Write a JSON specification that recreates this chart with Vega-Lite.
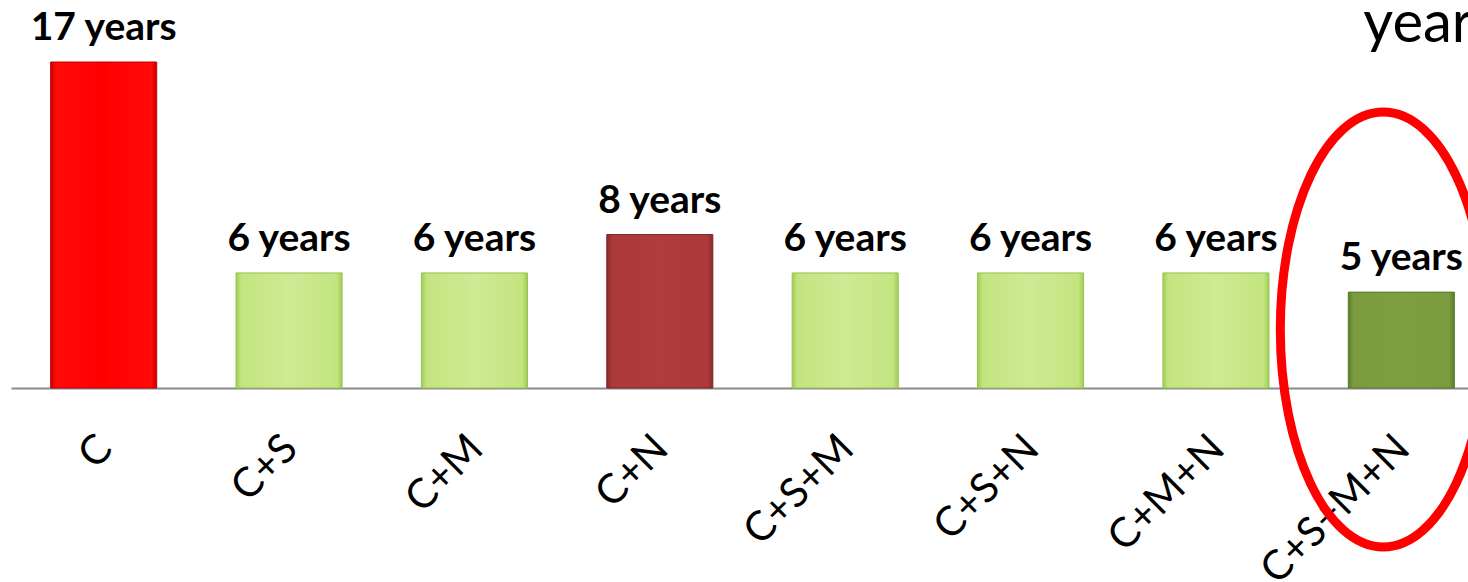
{
  "$schema": "https://vega.github.io/schema/vega-lite/v6.json",
  "width": 1457,
  "height": 326,
  "autosize": "none",
  "padding": {"left": 11, "top": 62, "right": 0, "bottom": 194},
  "background": "white",
  "data": {
    "values": [
      {"combo": "C", "years": 17},
      {"combo": "C+S", "years": 6},
      {"combo": "C+M", "years": 6},
      {"combo": "C+N", "years": 8},
      {"combo": "C+S+M", "years": 6},
      {"combo": "C+S+N", "years": 6},
      {"combo": "C+M+N", "years": 6},
      {"combo": "C+S+M+N", "years": 5}
    ]
  },
  "encoding": {
    "x": {
      "field": "combo",
      "type": "nominal",
      "sort": ["C", "C+S", "C+M", "C+N", "C+S+M", "C+S+N", "C+M+N", "C+S+M+N"],
      "scale": {"range": [0, 1483], "paddingInner": 0.428, "paddingOuter": 0.214},
      "axis": {
        "title": null,
        "ticks": false,
        "domainColor": "#8a8a8a",
        "domainWidth": 2,
        "labelAngle": -45,
        "labelFont": "Lato",
        "labelFontSize": 41,
        "labelColor": "black",
        "labelPadding": 40,
        "labelOffset": -12,
        "labelLimit": 0,
        "labelOverlap": false
      }
    },
    "y": {
      "field": "years",
      "type": "quantitative",
      "scale": {"domain": [0, 17], "nice": false},
      "axis": null
    }
  },
  "layer": [
    {
      "transform": [{"filter": {"field": "combo", "equal": "C"}}],
      "mark": {
        "type": "bar",
        "stroke": "#c00000",
        "strokeWidth": 1,
        "color": {
          "gradient": "linear", "x1": 0, "x2": 1, "y1": 0, "y2": 0,
          "stops": [
            {"offset": 0, "color": "#c80000"},
            {"offset": 0.05, "color": "#ff0a0a"},
            {"offset": 0.5, "color": "#ff0000"},
            {"offset": 0.95, "color": "#ff0a0a"},
            {"offset": 1, "color": "#c80000"}
          ]
        }
      }
    },
    {
      "transform": [{"filter": {"field": "combo", "oneOf": ["C+S", "C+M", "C+S+M", "C+S+N", "C+M+N"]}}],
      "mark": {
        "type": "bar",
        "stroke": "#96c24e",
        "strokeWidth": 1,
        "color": {
          "gradient": "linear", "x1": 0, "x2": 1, "y1": 0, "y2": 0,
          "stops": [
            {"offset": 0, "color": "#9fcf55"},
            {"offset": 0.05, "color": "#c4e480"},
            {"offset": 0.5, "color": "#cfea93"},
            {"offset": 0.95, "color": "#c4e480"},
            {"offset": 1, "color": "#9fcf55"}
          ]
        }
      }
    },
    {
      "transform": [{"filter": {"field": "combo", "equal": "C+N"}}],
      "mark": {
        "type": "bar",
        "stroke": "#7e2424",
        "strokeWidth": 1,
        "color": {
          "gradient": "linear", "x1": 0, "x2": 1, "y1": 0, "y2": 0,
          "stops": [
            {"offset": 0, "color": "#8a2a2a"},
            {"offset": 0.05, "color": "#ac3a3a"},
            {"offset": 0.5, "color": "#b03c3c"},
            {"offset": 0.95, "color": "#ac3a3a"},
            {"offset": 1, "color": "#8a2a2a"}
          ]
        }
      }
    },
    {
      "transform": [{"filter": {"field": "combo", "equal": "C+S+M+N"}}],
      "mark": {
        "type": "bar",
        "stroke": "#5a7a2a",
        "strokeWidth": 1,
        "color": {
          "gradient": "linear", "x1": 0, "x2": 1, "y1": 0, "y2": 0,
          "stops": [
            {"offset": 0, "color": "#5e7e2c"},
            {"offset": 0.05, "color": "#7a9c3e"},
            {"offset": 0.5, "color": "#7e9f40"},
            {"offset": 0.95, "color": "#7a9c3e"},
            {"offset": 1, "color": "#5e7e2c"}
          ]
        }
      }
    },
    {
      "mark": {
        "type": "text",
        "font": "Lato",
        "fontSize": 39,
        "fontWeight": "bold",
        "color": "black",
        "baseline": "alphabetic",
        "dy": -22,
        "text": {"expr": "datum.years + ' years'"}
      }
    },
    {
      "transform": [{"filter": {"field": "combo", "equal": "C+S+M+N"}}],
      "mark": {
        "type": "text",
        "font": "Lato",
        "fontSize": 58,
        "fontWeight": "normal",
        "color": "black",
        "align": "left",
        "baseline": "alphabetic",
        "dx": -38,
        "text": "years"
      },
      "encoding": {
        "y": {"datum": 18.05, "type": "quantitative"}
      }
    },
    {
      "transform": [{"filter": {"field": "combo", "equal": "C+S+M+N"}}],
      "mark": {
        "type": "point",
        "shape": "M0,-1C0.2616,-1,0.4736,-0.5523,0.4736,0C0.4736,0.5523,0.2616,1,0,1C-0.2616,1,-0.4736,0.5523,-0.4736,0C-0.4736,-0.5523,-0.2616,-1,0,-1Z",
        "size": 189225,
        "filled": false,
        "stroke": "#ff0000",
        "strokeWidth": 9,
        "opacity": 1,
        "xOffset": -18
      },
      "encoding": {
        "y": {"datum": 3.05, "type": "quantitative"}
      }
    }
  ],
  "config": {
    "view": {"stroke": null}
  }
}
